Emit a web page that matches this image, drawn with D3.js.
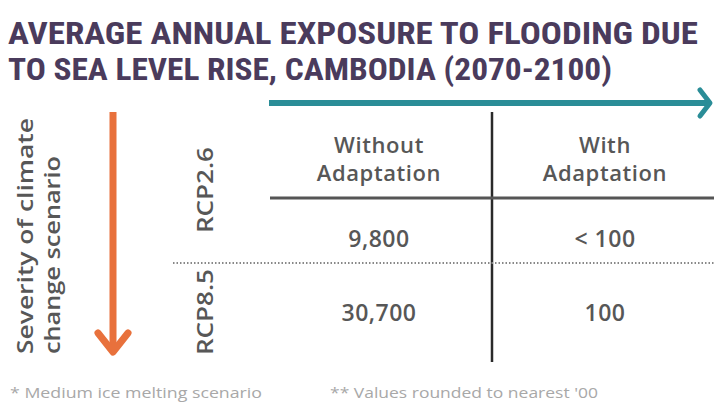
<!DOCTYPE html>
<html><head><meta charset="utf-8">
<script src="https://cdn.jsdelivr.net/npm/d3@7"></script>
<style>body{margin:0;background:#fff}svg{display:block}</style>
</head><body>
<svg id="c" width="714" height="405"></svg>
<script>
const titleLines = ["AVERAGE ANNUAL EXPOSURE TO FLOODING DUE", "TO SEA LEVEL RISE, CAMBODIA (2070-2100)"];
const columns = ["Without Adaptation", "With Adaptation"];
const columnLines = [["Without", "Adaptation"], ["With", "Adaptation"]];
const rows = ["RCP2.6", "RCP8.5"];
const valuesWithout = [9800, 30700];
const valuesWith = [100, 100];
const valueLabelsWithout = ["9,800", "30,700"];
const valueLabelsWith = ["< 100", "100"];
const axisLabelLines = ["Severity of climate", "change scenario"];
const footnotes = ["* Medium ice melting scenario", "** Values rounded to nearest '00"];

const svg = d3.select("#c");
const txt = "#575757";
const font = "'Open Sans', 'Noto Sans', sans-serif";

// Title
svg.selectAll("text.title").data(titleLines).join("text")
  .attr("class","title")
  .attr("x", 8).attr("y", (d,i)=> 44 + i*36)
  .attr("font-family","'Liberation Sans Narrow','Roboto Condensed','Arial Narrow',sans-serif")
  .attr("font-weight","bold").attr("font-size", 31)
  .attr("fill","#4a3b5c")
  .attr("textLength", (d,i)=> i===0 ? 690 : 604)
  .attr("lengthAdjust","spacingAndGlyphs")
  .text(d=>d);

// scales
const x = d3.scaleBand().domain(columns).range([270, 714]);
const x2 = d3.scalePoint().domain(columns).range([379, 605]);
const yVal = d3.scalePoint().domain(rows).range([238, 312]);
const yLab = d3.scalePoint().domain(rows).range([190, 312]);

// teal arrow
const teal = "#2a8d97";
svg.append("line").attr("x1",269).attr("x2",709).attr("y1",103).attr("y2",103)
  .attr("stroke",teal).attr("stroke-width",6);
svg.append("path").attr("d","M700,90 L710,103 L700,116").attr("fill","none")
  .attr("stroke",teal).attr("stroke-width",5).attr("stroke-linecap","round").attr("stroke-linejoin","round");

// orange arrow
const orange = "#e8713c";
svg.append("line").attr("x1",113).attr("x2",113).attr("y1",112).attr("y2",350)
  .attr("stroke",orange).attr("stroke-width",7);
svg.append("path").attr("d","M98,333 L113,352 L128,333").attr("fill","none")
  .attr("stroke",orange).attr("stroke-width",7).attr("stroke-linecap","round").attr("stroke-linejoin","round");

// severity label
svg.selectAll("text.sev").data(axisLabelLines).join("text")
  .attr("class","sev")
  .attr("transform",(d,i)=>`translate(${33 + i*27},354) rotate(-90)`)
  .attr("font-family",font).attr("font-weight",600).attr("font-size",22)
  .attr("textLength",(d,i)=> i===0 ? 236 : 198)
  .attr("lengthAdjust","spacingAndGlyphs")
  .attr("fill",txt).text(d=>d);

// table lines
svg.append("line").attr("x1",x(columns[1])).attr("x2",x(columns[1])).attr("y1",112).attr("y2",362)
  .attr("stroke","#2a2a2a").attr("stroke-width",2.5);
svg.append("line").attr("x1",270).attr("x2",714).attr("y1",198).attr("y2",198)
  .attr("stroke","#555").attr("stroke-width",3);
svg.append("line").attr("x1",173).attr("x2",714).attr("y1",263).attr("y2",263)
  .attr("stroke","#888").attr("stroke-width",2).attr("stroke-dasharray","1.5,2");

// column headers
columns.forEach((c,ci)=>{
  svg.append("g").selectAll("text").data(columnLines[ci]).join("text")
    .attr("x", x2(c)).attr("y",(d,i)=>153 + i*28)
    .attr("text-anchor","middle")
    .attr("font-family",font).attr("font-weight",600).attr("font-size",22)
    .attr("letter-spacing",0.6)
    .attr("fill",txt).text(d=>d);
});

// row labels
svg.selectAll("text.row").data(rows).join("text")
  .attr("class","row")
  .attr("transform",d=>`translate(213,${yLab(d)}) rotate(-90)`)
  .attr("text-anchor","middle")
  .attr("font-family",font).attr("font-weight",600).attr("font-size",21)
  .attr("textLength",86).attr("lengthAdjust","spacingAndGlyphs")
  .attr("fill",txt).text(d=>d);

// values
const cells = [];
rows.forEach((r,ri)=>{
  cells.push({row:r, col:columns[0], v:valuesWithout[ri], label:valueLabelsWithout[ri]});
  cells.push({row:r, col:columns[1], v:valuesWith[ri], label:valueLabelsWith[ri]});
});
svg.selectAll("text.val").data(cells).join("text")
  .attr("class","val")
  .attr("x",d=>x2(d.col)).attr("y",d=>yVal(d.row)+9)
  .attr("text-anchor","middle")
  .attr("font-family",font).attr("font-weight",600).attr("font-size",23)
  .attr("letter-spacing",0.5)
  .attr("fill",txt).text(d=>d.label);

// footnotes
svg.selectAll("text.foot").data(footnotes).join("text")
  .attr("class","foot")
  .attr("x",(d,i)=> i===0 ? 10 : 330).attr("y",398)
  .attr("font-family",font).attr("font-size",15)
  .attr("textLength",(d,i)=> i===0 ? 252 : 268).attr("lengthAdjust","spacingAndGlyphs")
  .attr("fill","#a8a8a8").text(d=>d);
</script>
</body></html>
